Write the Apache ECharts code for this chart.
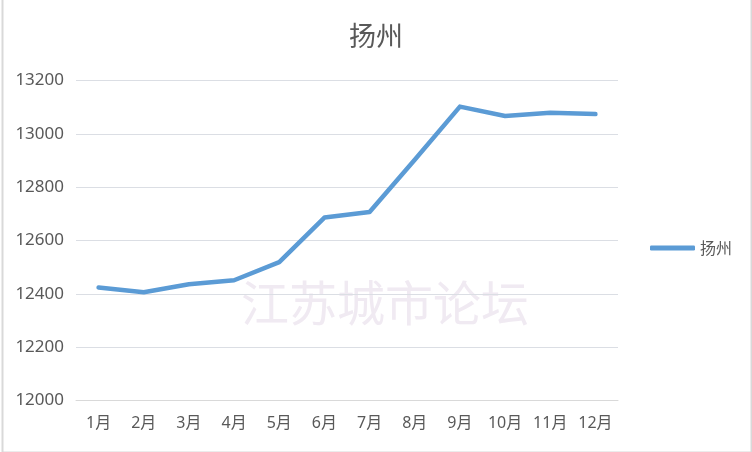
<!DOCTYPE html>
<html><head><meta charset="utf-8">
<script src="https://cdn.jsdelivr.net/npm/echarts@6/dist/echarts.min.js"></script>
<style>html,body{margin:0;padding:0;background:#fff}#c{width:752px;height:452px}</style>
</head><body><div id="c"></div>
<script>
const categories = ['1月','2月','3月','4月','5月','6月','7月','8月','9月','10月','11月','12月'];
const values = [12424, 12406, 12436, 12451, 12519, 12686, 12707, 12903, 13102, 13067, 13079, 13074];
const seriesName = '扬州';
const titleText = '扬州';
const watermark = '江苏城市论坛';
const yMin = 12000, yMax = 13200, yStep = 200;

const chart = echarts.init(document.getElementById('c'), null, {renderer:'canvas'});
const txt = '#595959';
const font = '"Noto Sans", "Noto Sans CJK SC", sans-serif';
chart.setOption({
  animation: false,
  backgroundColor: '#fff',
  textStyle: {fontFamily: font},
  title: {text: titleText, left: 'center', top: 17,
    textStyle: {fontSize: 27, fontWeight: 'normal', color: txt, fontFamily: '"Noto Sans CJK SC", sans-serif'}},
  graphic: [
    {type:'rect', left: 0, top: -4, shape:{x:0,y:0,width:749,height:454},
     style:{fill:'none', stroke:'#d9d9d9', lineWidth:2}, silent:true, z: 100},
    {type:'text', x: 385, y: 303, style:{text: watermark, font: '48px "Noto Sans CJK SC", sans-serif',
      fill:'#f0eaf2', textAlign:'center', textVerticalAlign:'middle'}, z: 0, silent:true}
  ],
  legend: {data:[seriesName], left: 645, top: 235, icon:'roundRect', itemWidth:45, itemHeight:5,
    itemGap: 7, textStyle:{fontSize:16, color:txt, fontFamily:'"Noto Sans CJK SC", sans-serif'}},
  grid: {left: 76, right: 134, top: 80.5, bottom: 51.5, containLabel: false},
  xAxis: {type:'category', data: categories, boundaryGap: true,
    axisLine:{lineStyle:{color:'#d9d9d9', width:1}}, axisTick:{show:false},
    axisLabel:{color:txt, fontSize:16, margin: 15, fontFamily: font}},
  yAxis: {type:'value', min:yMin, max:yMax, interval:yStep,
    axisLine:{show:false}, axisTick:{show:false},
    axisLabel:{color:txt, fontSize:17, margin: 12, fontFamily: font, formatter: v => String(v)}},
  series: [{name: seriesName, type:'line', data: values, symbol:'none', smooth:false,
    lineStyle:{color:'#5B9BD5', width:4.5, cap:'round', join:'round'}, itemStyle:{color:'#5B9BD5'}, z: 5}]
});
</script></body></html>
